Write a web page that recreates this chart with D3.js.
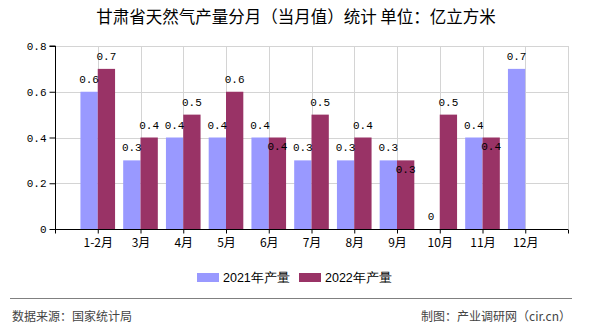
<!DOCTYPE html>
<html><head><meta charset="utf-8">
<script src="https://cdn.jsdelivr.net/npm/d3@7/dist/d3.min.js"></script>
<style>
body{margin:0;background:#fff;}
svg{display:block;}
</style></head>
<body>
<svg id="chart" width="590" height="330"></svg>
<script>
const categories = ["1-2月","3月","4月","5月","6月","7月","8月","9月","10月","11月","12月"];
const values2021 = [0.6,0.3,0.4,0.4,0.4,0.3,0.3,0.3,0,0.4,0.7];
const values2022 = [0.7,0.4,0.5,0.6,0.4,0.5,0.4,0.3,0.5,0.4,null];
const seriesNames = ["2021年产量","2022年产量"];
const seriesColors = ["#9999FF","#993366"];
const yTicks = [0,0.2,0.4,0.6,0.8];
const titleText = "甘肃省天然气产量分月（当月值）统计 单位：亿立方米";
const sourceText = "数据来源：国家统计局";
const creditText = "制图：产业调研网（cir.cn）";

const svg = d3.select("#chart");
const cjk = "'Noto Sans CJK SC','Noto Sans',sans-serif";
const mono = "'Liberation Mono','DejaVu Sans Mono',monospace";

const pLeft = 55, pRight = 568, pTop = 46, pBottom = 229;
const x = d3.scaleLinear().domain([0, categories.length + 1]).range([pLeft, pRight]);
const y = d3.scaleLinear().domain([0, 0.8]).range([pBottom, pTop]);
const step = x(1) - x(0);
const bw = step * 0.405;

// title
svg.append("text").attr("x", 296).attr("y", 23).attr("text-anchor","middle")
  .style("font-family", cjk).style("font-size","16.5px").attr("fill","#000").text(titleText);

// grid
const g = svg.append("g");
g.selectAll("line.hg").data(yTicks.slice(1)).join("line")
  .attr("x1", pLeft).attr("x2", pRight).attr("y1", d=>Math.round(y(d))+0.5).attr("y2", d=>Math.round(y(d))+0.5)
  .attr("stroke","#d4d4d4").attr("stroke-width",1);
const xTickPos = d3.range(1, categories.length + 2);
g.selectAll("line.vg").data(xTickPos).join("line")
  .attr("x1", d=>Math.round(x(d))+0.5).attr("x2", d=>Math.round(x(d))+0.5).attr("y1", pTop).attr("y2", pBottom)
  .attr("stroke","#d4d4d4").attr("stroke-width",1);

// bars
const bars = svg.append("g");
categories.forEach((c,i)=>{
  const cx = x(i+1);
  const v1 = values2021[i], v2 = values2022[i];
  if (v1 != null) bars.append("rect").attr("x", cx-bw).attr("y", y(v1)).attr("width", bw).attr("height", y(0)-y(v1)).attr("fill", seriesColors[0]);
  if (v2 != null) bars.append("rect").attr("x", cx).attr("y", y(v2)).attr("width", bw).attr("height", y(0)-y(v2)).attr("fill", seriesColors[1]);
});

// axes
const yAxis = d3.axisLeft(y).tickValues(yTicks).tickSize(6).tickPadding(3).tickFormat(d=> d===0 ? "0" : d3.format(".1f")(d));
const ya = svg.append("g").attr("transform", `translate(${pLeft+0.5},0)`).call(yAxis);
ya.select(".domain").attr("stroke","#000").attr("d", `M-6,${pTop}H0V${pBottom}`);
ya.selectAll(".tick line").attr("stroke","#000");
ya.selectAll("text").style("font-family", mono).style("font-size","11px").attr("fill","#000");

const xAxis = d3.axisBottom(x).tickValues(d3.range(0, categories.length + 2)).tickSize(4).tickPadding(5)
  .tickFormat(d => (d>=1 && d<=categories.length) ? categories[d-1] : "");
const xa = svg.append("g").attr("transform", `translate(0,${pBottom+0.5})`).call(xAxis);
xa.select(".domain").attr("stroke","#000").attr("d", `M${pLeft},0H${pRight}`);
xa.selectAll(".tick line").attr("stroke","#000");
xa.selectAll("text").style("font-family", cjk).style("font-size","12px").attr("fill","#000");

// data labels
const lab = svg.append("g").style("font-family", mono).style("font-size","11px").attr("fill","#000").attr("text-anchor","middle");
categories.forEach((c,i)=>{
  const cx = x(i+1);
  const v1 = values2021[i], v2 = values2022[i];
  if (v1 != null) lab.append("text").attr("x", cx-bw/2).attr("y", y(v1)-9).text(v1===0?"0":d3.format(".1f")(v1));
  if (v2 != null) {
    const inside = (v1 === v2);
    lab.append("text").attr("x", cx+bw/2).attr("y", inside ? y(v2)+12.5 : y(v2)-9).text(v2===0?"0":d3.format(".1f")(v2));
  }
});

// legend
const lg = svg.append("g");
const legendX = [197, 299];
seriesNames.forEach((n,i)=>{
  lg.append("rect").attr("x", legendX[i]).attr("y", 273).attr("width", 22).attr("height", 9).attr("fill", seriesColors[i]);
  lg.append("text").attr("x", legendX[i]+26).attr("y", 281.5).style("font-family","'Liberation Sans',Arial,sans-serif").style("font-size","12.5px").attr("fill","#000").text(n);
});

// footer
svg.append("line").attr("x1",10).attr("x2",572).attr("y1",298.5).attr("y2",298.5).attr("stroke","#808080").attr("stroke-width",1.2);
svg.append("text").attr("x",12).attr("y",321).style("font-family", cjk).style("font-size","12px").attr("fill","#444").text(sourceText);
svg.append("text").attr("x",571).attr("y",321).attr("text-anchor","end").style("font-family", cjk).style("font-size","12px").attr("fill","#444").text(creditText);
</script>
</body></html>
